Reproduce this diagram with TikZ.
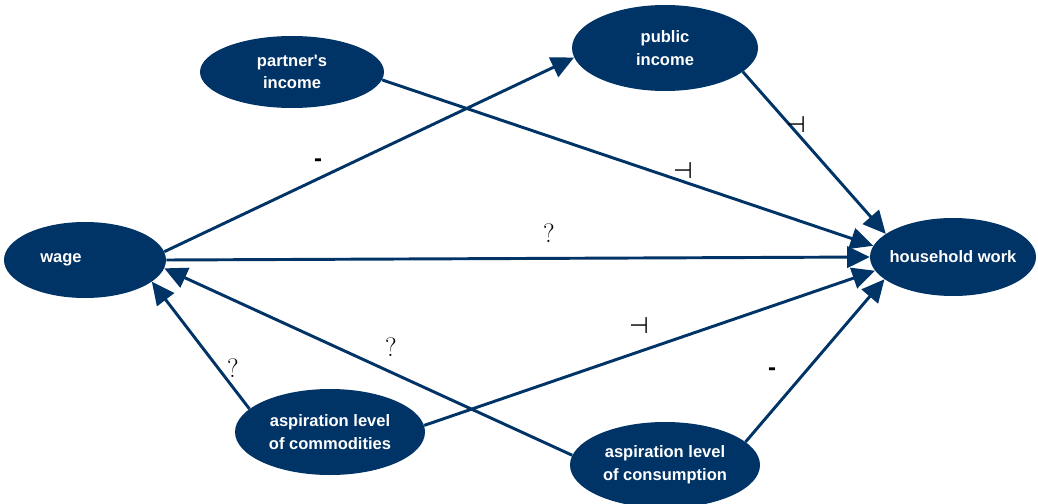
\documentclass[tikz,border=0pt]{standalone}
\usepackage{fontspec}
\setmainfont{Liberation Sans}
\newfontfamily\symfont{DejaVu Sans}
\usepackage{tikz}
\usetikzlibrary{shapes.geometric,arrows.meta}
\definecolor{factorcolor}{HTML}{003366}
\colorlet{factortext}{white}
\newcommand{\pos}{{\symfont ⊣}}% positive effect
\newcommand{\unk}{{\fontspec{Latin Modern Roman}?}}% unknown effect
\tikzstyle{factor} = [
    ellipse,
    fill=factorcolor,
    text=factortext,
    font=\fontsize{12.4}{17}\selectfont\bfseries,
    align=center,
    inner xsep=-14pt,
    inner ysep=0pt
    ]
\tikzstyle{effect} = [
    draw=factorcolor,
    line width=2.2pt,
    -{Triangle[length=17pt,width=16pt]}
    ]
\tikzstyle{sign} = [
    font=\fontsize{17}{17}\selectfont,
    inner sep=0pt
    ]

\begin{document}
\begin{tikzpicture}[x=0.75pt,y=-0.75pt]
\useasboundingbox (0,0) rectangle (1038,503);

% the factors
\node [factor, minimum width=138pt, minimum height=54pt] (partner) at (292,72) {partner\textquotesingle s\\income};
\node [factor, minimum width=139.5pt, minimum height=64.5pt] (public) at (665,48) {public\\income};
\node [factor, minimum width=121.5pt, minimum height=57pt] (wage) at (85,260) {wage\hspace*{36pt}};
\node [factor, minimum width=124.5pt, minimum height=58.5pt] (household) at (953,257) {household work};
\node [factor, minimum width=142.5pt, minimum height=64.5pt] (commod) at (330,432) {aspiration level\\of commodities};
\node [factor, minimum width=142.5pt, minimum height=64.5pt] (consump) at (665,465) {aspiration level\\of consumption};

% the effects
\draw [effect] (partner.-5) -- (household.172);
\draw [effect] (public.-17) -- (household.161);
\draw [effect] (wage.6) -- (public.186);
\draw [effect] (wage.east) -- (household.west);
\draw [effect] (commod.164) -- (wage.-18);
\draw [effect] (consump.174) -- (wage.-6);
\draw [effect] (commod.4) -- (household.-170);
\draw [effect] (consump.16) -- (household.-162);

% signs on the effects
\node [sign, font=\fontsize{18}{18}\selectfont\bfseries] (s1) at (318,163) {-};
\node [sign] (s2) at (683,171) {\pos};
\node [sign] (s3) at (796,125) {\pos};
\node [sign, font=\fontsize{20}{20}\selectfont] (s4) at (549,233) {\unk};
\node [sign] (s5) at (639,326) {\pos};
\node [sign, font=\fontsize{20}{20}\selectfont] (s6) at (391,347) {\unk};
\node [sign, font=\fontsize{20}{20}\selectfont] (s7) at (233,368) {\unk};
\node [sign, font=\fontsize{18}{18}\selectfont\bfseries] (s8) at (772,372) {-};
\end{tikzpicture}
\end{document}
